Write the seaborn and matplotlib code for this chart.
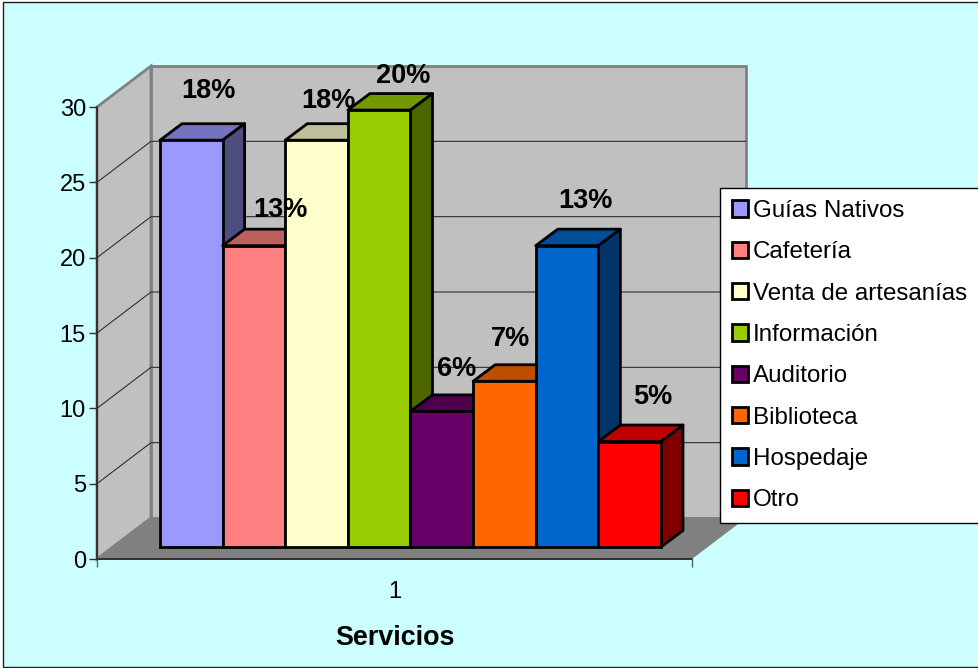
import matplotlib
matplotlib.use('Agg')
import matplotlib.pyplot as plt
from matplotlib.patches import Polygon, Rectangle
import pandas as pd
import seaborn as sns

servicios = ['Guías Nativos', 'Cafetería', 'Venta de artesanías', 'Información',
             'Auditorio', 'Biblioteca', 'Hospedaje', 'Otro']
valores = [27, 20, 27, 29, 9, 11, 20, 7]
etiquetas = ['18%', '13%', '18%', '20%', '6%', '7%', '13%', '5%']
colores = ['#9999ff', '#ff8080', '#ffffcc', '#99cc00',
           '#660066', '#ff6600', '#0066cc', '#ff0000']
y_ticks = [0, 5, 10, 15, 20, 25, 30]

sns.set_theme(style='white')
plt.rcParams['font.family'] = ['Liberation Sans', 'DejaVu Sans']

W, H = 979, 668
fig = plt.figure(figsize=(W / 100, H / 100), dpi=100, facecolor='white')
# outer chart area, runs off the right side like the original
fig.add_artist(Rectangle((3 / W, 1 - 667 / H), 1, 665 / H, transform=fig.transFigure,
                         facecolor='#ccffff', edgecolor='#202020', linewidth=1, zorder=-1))

# axes = front plane of the 3d box
ax = fig.add_axes([97 / W, 1 - 559 / H, 595 / W, 452 / H])
ax.patch.set_alpha(0)

df = pd.DataFrame({'grupo': ['1'] * len(servicios), 'servicio': servicios, 'valor': valores})
sns.barplot(data=df, x='grupo', y='valor', hue='servicio', hue_order=servicios,
            palette=colores, saturation=1, width=0.842, edgecolor='black',
            linewidth=2, ax=ax)
ax.set_xlim(-0.5, 0.5)
ax.set_ylim(0, 30)

# pixels to data units
ux = 1 / 595
uy = 30 / 452


def poly(pts, z, **kw):
    ax.add_patch(Polygon(pts, closed=True, clip_on=False, zorder=z, **kw))


# walls and floor
x0, x1 = -0.5, 0.5
wx = 54 * ux
wy = 41 * uy
poly([(x0, 0), (x1, 0), (x1 + wx, wy), (x0 + wx, wy)], 0.2, facecolor='#808080', edgecolor='none')
poly([(x0, 0), (x0, 30), (x0 + wx, 30 + wy), (x0 + wx, wy)], 0.3, facecolor='#c0c0c0', edgecolor='#808080', linewidth=2)
poly([(x0 + wx, wy), (x0 + wx, 30 + wy), (x1 + wx, 30 + wy), (x1 + wx, wy)], 0.3, facecolor='#c0c0c0', edgecolor='#808080', linewidth=2)
for t in y_ticks[1:-1]:
    ax.plot([x0, x0 + wx, x1 + wx], [t, t + wy, t + wy], color='#303030', lw=0.8,
            clip_on=False, zorder=0.5)
ax.plot([x0, x0, x1], [30, 0, 0], color='#303030', lw=1.4, clip_on=False, zorder=0.6)

# bars: move them into the middle of the box depth, then add top and side faces
bx, by = 16 * ux, 12 * uy
dx, dy = 22 * ux, 16.5 * uy
off_label = [(17, 49), (26, 36), (12, 39), (24, 34), (15, 42), (6, 42), (18, 45), (23, 45)]
for i, cont in enumerate(ax.containers):
    bar = cont[0]
    bar.set_x(bar.get_x() + bx)
    bar.set_y(by)
    l = bar.get_x()
    r = l + bar.get_width()
    b = by
    t = by + bar.get_height()
    z = 2 + i
    bar.set_zorder(z + 0.2)
    col = colores[i]
    rgb = matplotlib.colors.to_rgb(col)
    top = tuple(c * 0.75 for c in rgb)
    side = tuple(c * 0.5 for c in rgb)
    poly([(l, t), (r, t), (r + dx, t + dy), (l + dx, t + dy)], z, facecolor=top,
         edgecolor='black', linewidth=2, joinstyle='round')
    poly([(r, b), (r, t), (r + dx, t + dy), (r + dx, b + dy)], z + 0.1, facecolor=side,
         edgecolor='black', linewidth=2, joinstyle='round')
    ox, oy = off_label[i]
    ax.text((l + r) / 2 + ox * ux, t + oy * uy, etiquetas[i], ha='center', va='center',
            fontsize=19.5, fontweight='bold', color='black', zorder=20)

# axis furniture
sns.despine(ax=ax, left=True, bottom=True, top=True, right=True)
ax.set_yticks(y_ticks)
ax.tick_params(axis='y', left=True, length=6, width=1, color='#303030', labelsize=17, pad=2,
               labelcolor='black')
ax.set_xticks([0])
ax.set_xticks([x0, x1], minor=True)
ax.tick_params(axis='x', which='major', bottom=False, labelsize=17, pad=10, labelcolor='black')
ax.tick_params(axis='x', which='minor', bottom=True, length=6, width=1, color='#606060')
ax.set_xlabel('Servicios', fontsize=19.4, fontweight='bold', labelpad=16, color='black')
ax.set_ylabel('')

handles, labels = ax.get_legend_handles_labels()
leg = ax.legend(handles, labels, loc='upper left', bbox_to_anchor=(720 / W, 1 - 188 / H),
                bbox_transform=fig.transFigure, borderaxespad=0, fontsize=17.4, frameon=True,
                fancybox=False, framealpha=1, facecolor='white', edgecolor='black',
                handlelength=0.66, handleheight=0.66, handletextpad=0.2, labelspacing=0.8,
                borderpad=0.5, labelcolor='black')
leg.get_frame().set_linewidth(1)
leg.set_zorder(30)
for h in leg.get_patches():
    h.set_edgecolor('black')
    h.set_linewidth(2)

fig.savefig('out.png', dpi=100, facecolor=fig.get_facecolor())
